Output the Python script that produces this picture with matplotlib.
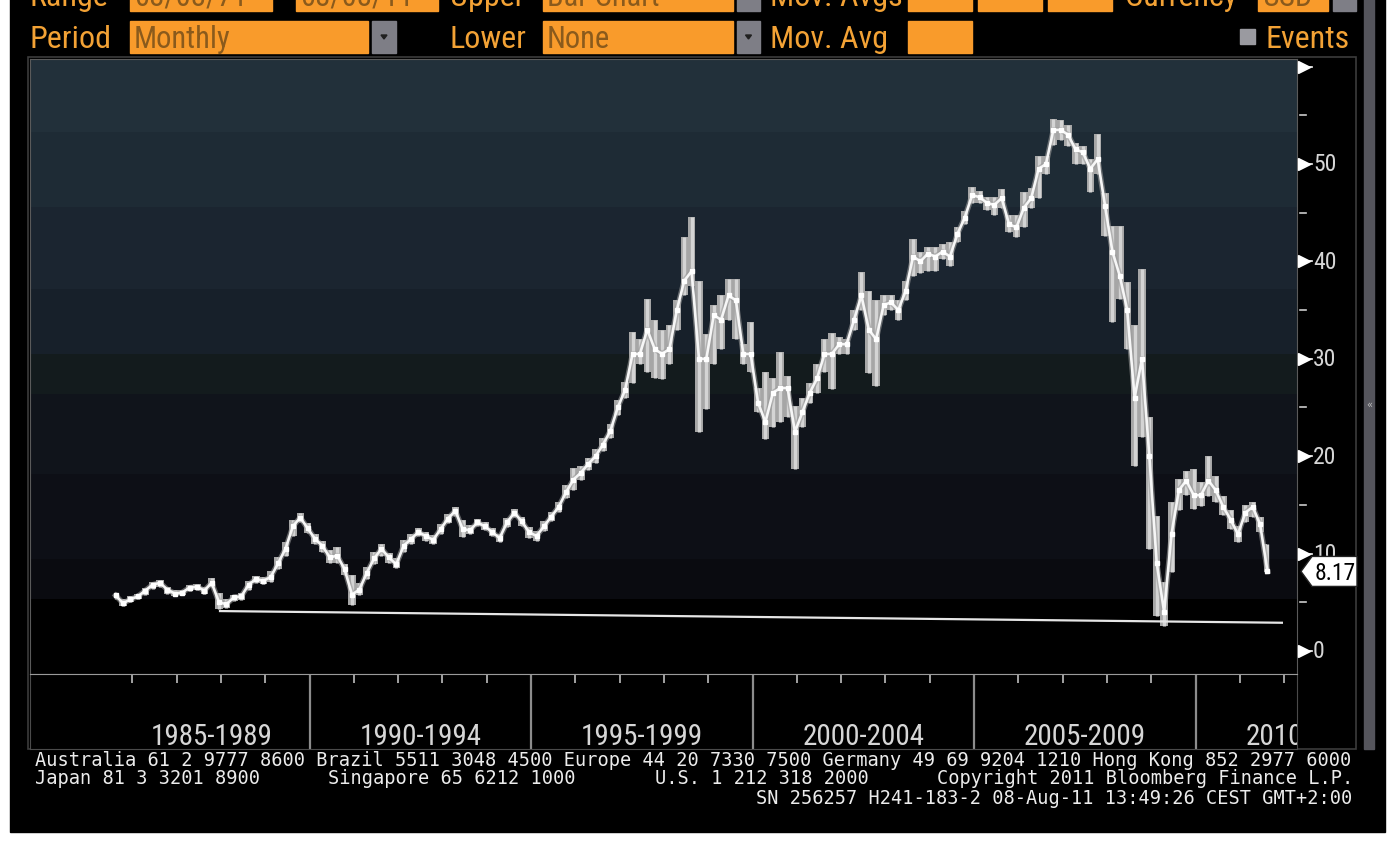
import matplotlib
matplotlib.use("Agg")
import matplotlib.pyplot as plt
from matplotlib import font_manager
from matplotlib.font_manager import FontProperties
from matplotlib.patches import Rectangle, Polygon
import numpy as np

W, H = 1400, 845

# ----------------------------------------------------------------------------
# data: bi-monthly bars, first bar Aug 1985
# ----------------------------------------------------------------------------
first_bar = 1985.625
bar_step = 2 / 12

close = [5.7, 4.9, 5.3, 5.6, 6.2, 6.8, 7.0, 6.3, 5.9, 6.0,
         6.5, 6.6, 6.2, 7.0, 5.0, 4.8, 5.5, 5.6, 6.8, 7.4,
         7.2, 7.6, 9.0, 10.5, 12.8, 13.7, 12.6, 11.5, 10.8, 9.6,
         9.8, 8.4, 5.8, 6.3, 8.0, 9.5, 10.5, 9.6, 8.9, 10.8,
         11.5, 12.2, 11.8, 11.4, 12.5, 13.6, 14.4, 12.5, 12.4, 13.2,
         12.8, 12.2, 11.6, 13.2, 14.2, 13.3, 12.2, 11.8, 12.8, 13.8,
         14.8, 16.3, 17.6, 18.3, 19.2, 20.0, 21.2, 22.6, 25.0, 26.8,
         30.5, 30.5, 33.0, 31.0, 30.5, 31.0, 35.0, 38.0, 39.0, 30.0,
         30.0, 34.5, 34.0, 36.5, 36.0, 30.5, 30.5, 25.5, 23.5, 26.5,
         27.0, 27.0, 22.5, 24.5, 26.5, 28.0, 30.5, 30.5, 31.5, 31.5,
         34.0, 36.5, 33.0, 32.0, 35.5, 35.8, 35.0, 37.0, 40.5, 40.0,
         40.8, 40.5, 41.0, 40.5, 42.8, 44.5, 46.8, 46.6, 46.0, 45.8,
         46.5, 43.8, 43.5, 45.5, 46.5, 49.5, 50.0, 53.5, 53.5, 53.0,
         51.5, 51.2, 49.5, 50.5, 45.7, 41.0, 38.5, 35.0, 26.0, 30.0,
         20.0, 9.0, 4.0, 12.0, 16.5, 17.5, 16.0, 16.0, 17.5, 16.5,
         14.8, 13.5, 12.0, 14.2, 14.8, 13.0, 8.17]

low = [5.3, 4.6, 5.0, 5.3, 5.8, 6.4, 6.6, 5.9, 5.6, 5.7,
       6.2, 6.3, 5.9, 6.6, 4.3, 4.4, 5.1, 5.2, 6.3, 7.0,
       6.9, 7.1, 8.4, 9.8, 11.8, 13.2, 12.1, 11.0, 10.2, 9.0,
       9.0, 7.8, 4.7, 5.7, 7.4, 8.9, 9.8, 9.0, 8.5, 10.2,
       11.0, 11.8, 11.3, 11.0, 12.0, 13.1, 13.9, 11.7, 12.0, 12.8,
       12.4, 11.8, 11.2, 12.7, 13.8, 12.8, 11.6, 11.3, 12.3, 13.3,
       14.3, 15.7, 16.5, 17.6, 18.6, 19.3, 20.5, 21.9, 24.2, 26.0,
       27.5, 29.5, 28.6, 28.0, 27.9, 29.5, 33.0, 36.5, 37.5, 22.5,
       24.8, 29.5, 31.0, 34.0, 32.0, 29.5, 28.6, 24.5, 21.8, 23.0,
       23.5, 24.0, 18.7, 23.0, 25.5, 26.5, 28.6, 26.9, 30.5, 30.5,
       33.0, 35.0, 28.5, 27.2, 34.5, 35.0, 34.0, 36.0, 38.5, 38.8,
       39.0, 39.0, 40.2, 39.5, 42.0, 43.8, 46.0, 46.0, 45.3, 44.8,
       45.5, 43.0, 42.5, 43.5, 45.5, 46.5, 49.0, 52.0, 52.5, 51.8,
       50.0, 50.0, 47.1, 49.0, 42.6, 33.8, 36.1, 31.0, 19.0, 22.0,
       10.5, 3.6, 2.6, 8.1, 14.5, 16.0, 14.6, 14.9, 15.9, 15.3,
       14.0, 12.5, 11.2, 13.2, 13.8, 12.2, 8.1]

high = [6.0, 5.3, 5.6, 5.9, 6.5, 7.1, 7.3, 6.6, 6.3, 6.3,
        6.8, 6.9, 6.6, 7.5, 6.0, 5.3, 5.8, 6.0, 7.2, 7.7,
        7.6, 8.2, 9.6, 11.2, 13.5, 14.2, 13.1, 12.0, 11.3, 10.4,
        10.7, 8.9, 7.8, 7.0, 8.6, 10.2, 11.0, 10.1, 9.5, 11.4,
        12.0, 12.6, 12.2, 11.9, 13.0, 14.1, 14.8, 13.4, 12.9, 13.6,
        13.2, 12.6, 12.0, 13.7, 14.6, 13.8, 12.7, 12.3, 13.3, 14.3,
        15.3, 17.0, 18.8, 19.0, 19.8, 20.7, 21.9, 23.3, 25.8, 27.6,
        32.8, 32.0, 36.1, 34.0, 33.0, 33.5, 36.0, 42.5, 44.6, 38.0,
        32.5, 35.5, 36.5, 38.2, 38.2, 31.5, 33.8, 27.0, 28.6, 28.0,
        30.7, 28.2, 25.2, 26.0, 27.5, 29.5, 32.0, 32.7, 32.2, 32.0,
        35.0, 38.9, 37.0, 36.0, 36.5, 36.5, 36.0, 38.0, 42.3, 41.0,
        41.5, 41.5, 41.8, 42.0, 43.5, 45.2, 47.6, 47.2, 46.6, 46.6,
        47.4, 44.8, 44.8, 47.1, 47.5, 50.8, 50.8, 54.6, 54.5, 54.0,
        52.2, 51.8, 50.5, 53.1, 47.0, 43.6, 43.6, 37.9, 33.5, 39.2,
        24.0, 13.9, 7.1, 15.3, 17.7, 18.5, 18.7, 17.4, 20.0, 18.0,
        15.9, 14.5, 12.8, 15.0, 15.3, 13.8, 11.0]

last_price = 8.17

# support line drawn on the chart (two end points)
trend_t = [1987.98, 2011.95]
trend_v = [4.1, 2.9]

y_major = [0, 10, 20, 30, 40, 50]
period_labels = ["1985-1989", "1990-1994", "1995-1999",
                 "2000-2004", "2005-2009", "2010-2014"]
period_centers = [1987.8, 1992.5, 1997.5, 2002.5, 2007.5, 2012.5]
period_breaks = [1990, 1995, 2000, 2005, 2010]

footer_1 = ("Australia 61 2 9777 8600 Brazil 5511 3048 4500 Europe 44 20 7330 7500 "
            "Germany 49 69 9204 1210 Hong Kong 852 2977 6000")
footer_2 = ["Japan 81 3 3201 8900", "Singapore 65 6212 1000",
            "U.S. 1 212 318 2000", "Copyright 2011 Bloomberg Finance L.P."]
footer_3 = "SN 256257 H241-183-2 08-Aug-11 13:49:26 CEST GMT+2:00"


# ----------------------------------------------------------------------------
# fonts: look for a condensed face, Bloomberg screens use a narrow font
# ----------------------------------------------------------------------------
def _find_narrow():
    wanted = ["Liberation Sans Narrow", "Roboto Condensed", "Open Sans Condensed",
              "Noto Sans Condensed", "DejaVu Sans Condensed"]
    fonts = font_manager.fontManager.ttflist
    for w in wanted:
        for f in fonts:
            fn = f.fname.replace("-", "").replace("_", "").lower()
            key = w.replace(" ", "").lower()
            if (f.name == w or key in fn) and f.style == "normal" \
                    and "bold" not in fn and "light" not in fn \
                    and "semi" not in fn and "extra" not in fn and "italic" not in fn:
                return f.fname
    for f in fonts:
        fn = f.fname.lower()
        if ("condensed" in fn or "narrow" in fn) and f.style == "normal" \
                and "bold" not in fn and "italic" not in fn:
            return f.fname
    return None


_narrow_path = _find_narrow()


def narrow(size):
    if _narrow_path:
        return FontProperties(fname=_narrow_path, size=size)
    return FontProperties(family="Liberation Sans", size=size * 0.85)


MONO = ["DejaVu Sans Mono"]
ORANGE = "#f99b2b"
ORANGE_TXT = "#f3a235"
BOX_TXT = "#8a5a1c"
GREY_TXT = "#d6d6d6"


def fx(px):
    return px / W


def fy(py):
    return 1 - py / H


fig = plt.figure(figsize=(W / 100, H / 100), dpi=100, facecolor="white")

# background / chrome layer, pixel coordinates
bg = fig.add_axes([0, 0, 1, 1], zorder=0)
bg.set_xlim(0, W)
bg.set_ylim(H, 0)
bg.axis("off")
bg.add_patch(Rectangle((10, -5), 1375, 838, color="black"))
# right scroll strip
bg.add_patch(Rectangle((1364, -5), 10, 755, color="#55555c"))
bg.text(1369, 405, "«", color="#bbbbbb", fontsize=7, ha="center", va="center")
# panel frame
bg.add_patch(Rectangle((28, 58), 1328, 692, fill=False, ec="#3c3c3c", lw=1.2))


# top control bar ------------------------------------------------------------
def box(x0, x1, y0, y1, text=None):
    bg.add_patch(Rectangle((x0, y0), x1 - x0, y1 - y0, color=ORANGE))
    if text:
        bg.text(x0 + 4, (y0 + y1) / 2 + 1, text, color=BOX_TXT,
                fontproperties=narrow(22), ha="left", va="center")


def button(x0, x1, y0, y1):
    bg.add_patch(Rectangle((x0, y0), x1 - x0, y1 - y0, color="#7e7e86"))
    if y1 > 20:
        cx, cy = (x0 + x1) / 2, (y0 + y1) / 2
        bg.add_patch(Polygon([(cx - 3, cy - 2), (cx + 3, cy - 2), (cx, cy + 2)],
                             color="#202020"))


def label(x, y, text):
    bg.text(x, y, text, color=ORANGE_TXT, fontproperties=narrow(23),
            ha="left", va="center")


# row 1 (mostly cut off by the top edge)
r1 = (-20, 12)
label(30, -2, "Range")
box(130, 272, *r1, "08/08/71")
box(296, 438, *r1, "08/08/11")
label(450, -2, "Upper")
box(543, 733, *r1, "Bar Chart")
button(737, 760, *r1)
label(770, -2, "Mov. Avgs")
box(908, 972, *r1)
box(978, 1042, *r1)
box(1048, 1112, *r1)
label(1125, -2, "Currency")
box(1258, 1328, *r1, "USD")
button(1333, 1356, *r1)

# row 2
r2 = (22, 54)
label(30, 39, "Period")
box(130, 368, *r2, "Monthly")
button(372, 396, *r2)
label(449, 39, "Lower")
box(543, 733, *r2, "None")
button(737, 760, *r2)
label(770, 39, "Mov. Avg")
box(908, 972, *r2)
bg.add_patch(Rectangle((1240, 30), 15, 15, color="#9a9aa0"))
label(1266, 39, "Events")

# footer text
bg.text(35, 761, footer_1, family=MONO, fontsize=13.4, color="#ececec",
        ha="left", va="center")
for xs, seg in zip([35, 328, 655, 937], footer_2):
    bg.text(xs, 779, seg, family=MONO, fontsize=13.4, color="#ececec",
            ha="left", va="center")
bg.text(1352, 799, footer_3, family=MONO, fontsize=13.4, color="#ececec",
        ha="right", va="center")

# ----------------------------------------------------------------------------
# price panel
# ----------------------------------------------------------------------------
x_left = 1985 + (30 - 88) / 44.3
x_right = 1985 + (1297 - 88) / 44.3
y_bot = (652 - 675) / 9.74
y_top = (652 - 60) / 9.74

ax = fig.add_axes([fx(30), fy(675), (1297 - 30) / W, (675 - 60) / H], zorder=2)
ax.set_xlim(x_left, x_right)
ax.set_ylim(y_bot, y_top)
ax.set_facecolor("black")

bands = [(53.3, 62, "#22303a"), (45.6, 53.3, "#1e2b35"), (37.2, 45.6, "#1b2530"),
         (30.5, 37.2, "#17202a"), (26.4, 30.5, "#131b1d"), (18.2, 26.4, "#10141b"),
         (9.4, 18.2, "#0d0f16"), (5.3, 9.4, "#0a0b10"), (-5, 5.3, "#000000")]
for b0, b1, c in bands:
    ax.axhspan(b0, b1, color=c, lw=0, zorder=0)

t = first_bar + bar_step * np.arange(len(close))
ax.fill_between(t, low, high, step="mid", color="#a6a6a6", lw=0, zorder=2)
ax.vlines(t, low, high, color="#d4d4d4", lw=2.4, zorder=3)
ax.plot(t, close, color="#9a9a9a", lw=4.0, alpha=0.6, zorder=3)
ax.plot(t, close, color="#f6f6f6", lw=1.9, zorder=4)
ax.plot(t, close, ls="none", marker="s", ms=2.2, color="white", zorder=5)
ax.plot(trend_t, trend_v, color="#e6e6e6", lw=1.6, zorder=3)

for s in ax.spines.values():
    s.set_color("#5a5a5a")
ax.set_xticks([])
ax.set_yticks([])

# right-hand axis: triangle markers, minor dashes, labels
trans = ax.get_yaxis_transform()
ax_w = 1297 - 30
for v in y_major + [60]:
    ax.plot([1 + 7 / ax_w], [v], marker=">", ms=9, color="white",
            transform=trans, clip_on=False, zorder=5)
    ax.plot([1 + 7 / ax_w, 1 + 15 / ax_w], [v, v], color="white", lw=1.2,
            transform=trans, clip_on=False)
for v in y_major:
    ax.text(1 + 16 / ax_w, v, str(v), transform=trans, color=GREY_TXT,
            fontproperties=narrow(17), ha="left", va="center")
for v in range(5, 60, 10):
    ax.plot([1 + 3 / ax_w, 1 + 9 / ax_w], [v, v], color="#cccccc", lw=1.2,
            transform=trans, clip_on=False)

# ----------------------------------------------------------------------------
# date strip
# ----------------------------------------------------------------------------
axd = fig.add_axes([fx(30), fy(750), (1297 - 30) / W, 75 / H], zorder=2)
axd.set_xlim(x_left, x_right)
axd.set_ylim(0, 1)
axd.set_facecolor("black")
axd.set_xticks([])
axd.set_yticks([])
for s in axd.spines.values():
    s.set_color("#4a4a4a")
axd.spines["top"].set_color("#9a9a9a")
axd.vlines(period_breaks, 0, 1, color="#8c8c8c", lw=1.6)
years = [y for y in range(1986, 2013) if y % 5]
axd.vlines(years, 0.88, 1, color="#bdbdbd", lw=1.2)
for lab, c in zip(period_labels, period_centers):
    axd.text(c, 0.17, lab, color=GREY_TXT, fontproperties=narrow(21),
             ha="center", va="center", clip_on=True)

# ----------------------------------------------------------------------------
# last price flag (on top of everything)
# ----------------------------------------------------------------------------
top = fig.add_axes([0, 0, 1, 1], zorder=10)
top.set_xlim(0, W)
top.set_ylim(H, 0)
top.axis("off")
top.patch.set_alpha(0)
yp = 652 - 9.74 * last_price
top.add_patch(Polygon([(1301, yp), (1312, yp - 15), (1357, yp - 15),
                       (1357, yp + 15), (1312, yp + 15)],
                      color="white", ec="#222222", lw=1))
top.text(1335, yp + 1, f"{last_price:.2f}", color="black",
         fontproperties=narrow(17), ha="center", va="center")

fig.savefig("out.png", dpi=100, facecolor="white")
